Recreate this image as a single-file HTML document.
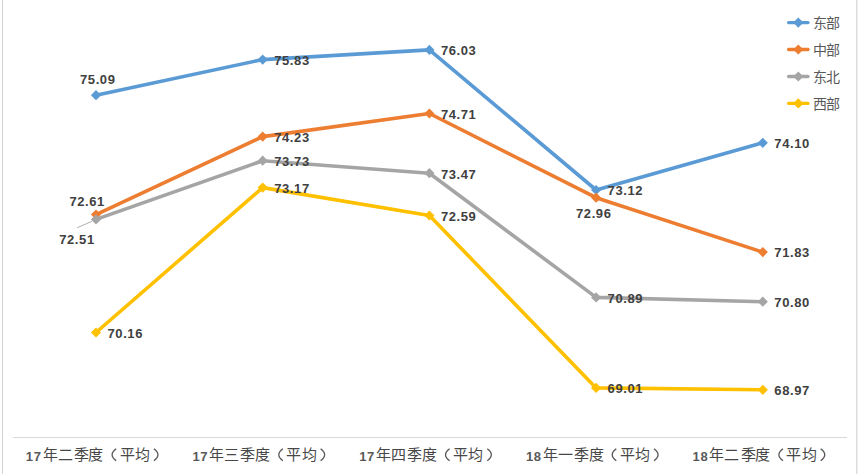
<!DOCTYPE html>
<html lang="zh-CN"><head><meta charset="utf-8"><style>
html,body{margin:0;padding:0;background:#fff;width:858px;height:474px;overflow:hidden}
svg{display:block}
.lbl{font-family:"Liberation Sans",sans-serif;font-weight:bold;font-size:13px;fill:#404040;letter-spacing:0.6px}
.leg{font-family:"Liberation Sans",sans-serif;font-size:14px;fill:#595959}
.ax{font-family:"Liberation Sans",sans-serif;font-size:15px;fill:#474747;font-weight:500}
.par{font-family:"Liberation Sans",sans-serif;font-size:14px;fill:#595959}
</style></head><body>
<svg width="858" height="474" viewBox="0 0 858 474">
<line x1="2.5" y1="0" x2="2.5" y2="474" stroke="#d4d4d4" stroke-width="1"/>
<line x1="856.8" y1="0" x2="856.8" y2="474" stroke="#d4d4d4" stroke-width="1.2"/>
<line x1="13" y1="437.5" x2="847" y2="437.5" stroke="#d9d9d9" stroke-width="1"/>
<polyline points="96.0,95.2 262.7,59.6 429.4,49.9 596.1,190.0 762.8,142.8" fill="none" stroke="#5B9BD5" stroke-width="3.6" stroke-linejoin="round" stroke-linecap="round"/>
<polygon points="96.0,90.1 101.1,95.2 96.0,100.3 90.9,95.2" fill="#5B9BD5"/>
<polygon points="262.7,54.5 267.8,59.6 262.7,64.7 257.6,59.6" fill="#5B9BD5"/>
<polygon points="429.4,44.8 434.5,49.9 429.4,55.0 424.3,49.9" fill="#5B9BD5"/>
<polygon points="596.1,184.9 601.2,190.0 596.1,195.1 591.0,190.0" fill="#5B9BD5"/>
<polygon points="762.8,137.7 767.9,142.8 762.8,147.9 757.7,142.8" fill="#5B9BD5"/>
<polyline points="96.0,214.6 262.7,136.6 429.4,113.5 596.1,197.7 762.8,252.1" fill="none" stroke="#ED7D31" stroke-width="3.6" stroke-linejoin="round" stroke-linecap="round"/>
<polygon points="96.0,209.5 101.1,214.6 96.0,219.7 90.9,214.6" fill="#ED7D31"/>
<polygon points="262.7,131.5 267.8,136.6 262.7,141.7 257.6,136.6" fill="#ED7D31"/>
<polygon points="429.4,108.4 434.5,113.5 429.4,118.6 424.3,113.5" fill="#ED7D31"/>
<polygon points="596.1,192.6 601.2,197.7 596.1,202.8 591.0,197.7" fill="#ED7D31"/>
<polygon points="762.8,247.0 767.9,252.1 762.8,257.2 757.7,252.1" fill="#ED7D31"/>
<polyline points="96.0,219.4 262.7,160.7 429.4,173.2 596.1,297.4 762.8,301.7" fill="none" stroke="#A5A5A5" stroke-width="3.6" stroke-linejoin="round" stroke-linecap="round"/>
<polygon points="96.0,214.3 101.1,219.4 96.0,224.5 90.9,219.4" fill="#A5A5A5"/>
<polygon points="262.7,155.6 267.8,160.7 262.7,165.8 257.6,160.7" fill="#A5A5A5"/>
<polygon points="429.4,168.1 434.5,173.2 429.4,178.3 424.3,173.2" fill="#A5A5A5"/>
<polygon points="596.1,292.3 601.2,297.4 596.1,302.5 591.0,297.4" fill="#A5A5A5"/>
<polygon points="762.8,296.6 767.9,301.7 762.8,306.8 757.7,301.7" fill="#A5A5A5"/>
<polyline points="96.0,332.5 262.7,187.6 429.4,215.5 596.1,387.9 762.8,389.8" fill="none" stroke="#FFC000" stroke-width="3.6" stroke-linejoin="round" stroke-linecap="round"/>
<polygon points="96.0,327.4 101.1,332.5 96.0,337.6 90.9,332.5" fill="#FFC000"/>
<polygon points="262.7,182.5 267.8,187.6 262.7,192.7 257.6,187.6" fill="#FFC000"/>
<polygon points="429.4,210.4 434.5,215.5 429.4,220.6 424.3,215.5" fill="#FFC000"/>
<polygon points="596.1,382.8 601.2,387.9 596.1,393.0 591.0,387.9" fill="#FFC000"/>
<polygon points="762.8,384.7 767.9,389.8 762.8,394.9 757.7,389.8" fill="#FFC000"/>
<line x1="77.2" y1="227.7" x2="91.8" y2="221.4" stroke="#a6a6a6" stroke-width="0.9"/>
<text x="80.0" y="84.0" class="lbl">75.09</text>
<text x="274.2" y="64.9" class="lbl">75.83</text>
<text x="440.9" y="55.2" class="lbl">76.03</text>
<text x="607.6" y="195.3" class="lbl">73.12</text>
<text x="774.3" y="148.1" class="lbl">74.10</text>
<text x="69.4" y="205.8" class="lbl">72.61</text>
<text x="274.2" y="141.9" class="lbl">74.23</text>
<text x="440.9" y="118.8" class="lbl">74.71</text>
<text x="576.0" y="217.7" class="lbl">72.96</text>
<text x="774.3" y="257.4" class="lbl">71.83</text>
<text x="59.2" y="243.8" class="lbl">72.51</text>
<text x="274.2" y="166.0" class="lbl">73.73</text>
<text x="440.9" y="178.5" class="lbl">73.47</text>
<text x="607.6" y="302.7" class="lbl">70.89</text>
<text x="774.3" y="307.0" class="lbl">70.80</text>
<text x="107.5" y="337.8" class="lbl">70.16</text>
<text x="274.2" y="192.9" class="lbl">73.17</text>
<text x="440.9" y="220.8" class="lbl">72.59</text>
<text x="607.6" y="393.2" class="lbl">69.01</text>
<text x="774.3" y="395.1" class="lbl">68.97</text>
<line x1="788.6" y1="22.6" x2="808" y2="22.6" stroke="#5B9BD5" stroke-width="3.3" stroke-linecap="round"/>
<polygon points="798.3,17.5 803.4,22.6 798.3,27.700000000000003 793.1999999999999,22.6" fill="#5B9BD5"/>
<text x="819.5 832.5" y="28.1" class="leg" text-anchor="middle">东部</text>
<line x1="788.6" y1="49.5" x2="808" y2="49.5" stroke="#ED7D31" stroke-width="3.3" stroke-linecap="round"/>
<polygon points="798.3,44.4 803.4,49.5 798.3,54.6 793.1999999999999,49.5" fill="#ED7D31"/>
<text x="819.5 832.5" y="55.0" class="leg" text-anchor="middle">中部</text>
<line x1="788.6" y1="76.5" x2="808" y2="76.5" stroke="#A5A5A5" stroke-width="3.3" stroke-linecap="round"/>
<polygon points="798.3,71.4 803.4,76.5 798.3,81.6 793.1999999999999,76.5" fill="#A5A5A5"/>
<text x="819.5 832.5" y="82.0" class="leg" text-anchor="middle">东北</text>
<line x1="788.6" y1="103.4" x2="808" y2="103.4" stroke="#FFC000" stroke-width="3.3" stroke-linecap="round"/>
<polygon points="798.3,98.30000000000001 803.4,103.4 798.3,108.5 793.1999999999999,103.4" fill="#FFC000"/>
<text x="819.5 832.5" y="108.9" class="leg" text-anchor="middle">西部</text>
<text x="25.8" y="460.8" class="lbl" style="fill:#595959">17</text>
<text x="50.0 65.0 81.2 95.9 127.1 142.4" y="460.3" class="ax" text-anchor="middle">年二季度平均</text>
<path d="M116.2,448.8 Q108.0,454.8 116.2,460.8 M153.9,448.8 Q162.0,454.8 153.9,460.8" fill="none" stroke="#595959" stroke-width="1.3"/>
<text x="192.5" y="460.8" class="lbl" style="fill:#595959">17</text>
<text x="216.7 231.7 247.9 262.6 293.8 309.1" y="460.3" class="ax" text-anchor="middle">年三季度平均</text>
<path d="M282.9,448.8 Q274.7,454.8 282.9,460.8 M320.6,448.8 Q328.7,454.8 320.6,460.8" fill="none" stroke="#595959" stroke-width="1.3"/>
<text x="359.2" y="460.8" class="lbl" style="fill:#595959">17</text>
<text x="383.4 398.4 414.6 429.3 460.5 475.8" y="460.3" class="ax" text-anchor="middle">年四季度平均</text>
<path d="M449.6,448.8 Q441.4,454.8 449.6,460.8 M487.3,448.8 Q495.4,454.8 487.3,460.8" fill="none" stroke="#595959" stroke-width="1.3"/>
<text x="525.9" y="460.8" class="lbl" style="fill:#595959">18</text>
<text x="550.1 565.1 581.3 596.0 627.2 642.5" y="460.3" class="ax" text-anchor="middle">年一季度平均</text>
<path d="M616.3,448.8 Q608.1,454.8 616.3,460.8 M654.0,448.8 Q662.1,454.8 654.0,460.8" fill="none" stroke="#595959" stroke-width="1.3"/>
<text x="692.6" y="460.8" class="lbl" style="fill:#595959">18</text>
<text x="716.8 731.8 748.0 762.7 793.9 809.2" y="460.3" class="ax" text-anchor="middle">年二季度平均</text>
<path d="M783.0,448.8 Q774.8,454.8 783.0,460.8 M820.7,448.8 Q828.8,454.8 820.7,460.8" fill="none" stroke="#595959" stroke-width="1.3"/>
</svg>
</body></html>
